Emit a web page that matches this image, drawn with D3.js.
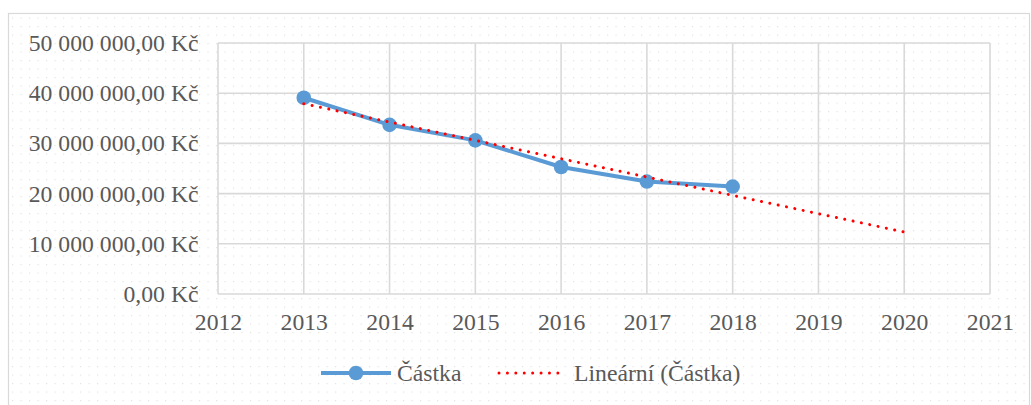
<!DOCTYPE html>
<html><head><meta charset="utf-8">
<script src="https://cdn.jsdelivr.net/npm/d3@7"></script>
<style>html,body{margin:0;padding:0;background:#fff;overflow:hidden}
svg text{font-family:"Liberation Serif","Times New Roman","DejaVu Serif",serif !important;}</style>
</head><body>
<script>
const years = [2013, 2014, 2015, 2016, 2017, 2018];
const amounts = [39100000, 33700000, 30600000, 25300000, 22400000, 21400000];
const trendYears = [2013, 2020];
const trendValues = [37900000, 12350000];
const xTicks = [2012, 2013, 2014, 2015, 2016, 2017, 2018, 2019, 2020, 2021];
const yTicks = [0, 10000000, 20000000, 30000000, 40000000, 50000000];
const seriesName = "Částka";
const trendName = "Lineární (Částka)";

const W = 1031, H = 405;
const FS = "23.7px";
const svg = d3.select("body").append("svg").attr("width", W).attr("height", H);
const defs = svg.append("defs");
const pat = defs.append("pattern").attr("id","dots").attr("patternUnits","userSpaceOnUse")
  .attr("width",8.5).attr("height",8.5).attr("x",3.5).attr("y",0.5);
pat.append("rect").attr("x",0).attr("y",0).attr("width",1.2).attr("height",1.2).attr("fill","#e3e3e3");

svg.append("rect").attr("x",8.5).attr("y",13.5).attr("width",1021).attr("height",400)
  .attr("fill","url(#dots)").attr("stroke","#d9d9d9").attr("stroke-width",1.2);

const L = 218, R = 990, T = 43, B = 294;
const x = d3.scaleLinear().domain([2012, 2021]).range([L, R]);
const y = d3.scaleLinear().domain([0, 50000000]).range([B, T]);

const fmt = v => {
  const s = d3.format(",.2f")(v).replace(/,/g, " ").replace(".", ",");
  return s + " Kč";
};

const grid = svg.append("g");
grid.selectAll("line.h").data(yTicks).join("line")
  .attr("x1",L).attr("x2",R).attr("y1",d=>y(d)).attr("y2",d=>y(d))
  .attr("stroke","#d9d9d9").attr("stroke-width",1.6);
grid.selectAll("line.v").data(xTicks).join("line")
  .attr("y1",T).attr("y2",B).attr("x1",d=>x(d)).attr("x2",d=>x(d))
  .attr("stroke","#d9d9d9").attr("stroke-width",1.6);

const yAxis = d3.axisLeft(y).tickValues(yTicks).tickFormat(fmt).tickSize(0).tickPadding(19.5);
const ya = svg.append("g").attr("transform",`translate(${L},0)`).call(yAxis);
ya.select(".domain").remove();
ya.selectAll("text").style("font-size",FS).attr("fill","#595959");

const xAxis = d3.axisBottom(x).tickValues(xTicks).tickFormat(d3.format("d")).tickSize(0).tickPadding(19.5);
const xa = svg.append("g").attr("transform",`translate(0,${B})`).call(xAxis);
xa.select(".domain").remove();
xa.selectAll("text").style("font-size",FS).attr("fill","#595959");

const data = years.map((yr,i)=>({yr, v: amounts[i]}));
const line = d3.line().x(d=>x(d.yr)).y(d=>y(d.v));
svg.append("path").datum(data).attr("d", line).attr("fill","none")
  .attr("stroke","#5b9bd5").attr("stroke-width",4).attr("stroke-linejoin","round");
svg.selectAll("circle.m").data(data).join("circle")
  .attr("cx",d=>x(d.yr)).attr("cy",d=>y(d.v)).attr("r",7.3).attr("fill","#5b9bd5");

const tdata = trendYears.map((yr,i)=>({yr, v: trendValues[i]}));
svg.append("path").datum(tdata).attr("d", line).attr("fill","none")
  .attr("stroke","#ff0000").attr("stroke-width",3).attr("stroke-linecap","round")
  .attr("stroke-dasharray","0.01 8.5");

// legend
const ly = 373;
const lg = svg.append("g");
lg.append("line").attr("x1",321).attr("x2",391).attr("y1",ly).attr("y2",ly)
  .attr("stroke","#5b9bd5").attr("stroke-width",4);
lg.append("circle").attr("cx",356).attr("cy",ly).attr("r",7.3).attr("fill","#5b9bd5");
lg.append("text").attr("x",397).attr("y",381).text(seriesName)
  .style("font-size",FS).attr("fill","#595959");
lg.append("line").attr("x1",499).attr("x2",566).attr("y1",ly).attr("y2",ly)
  .attr("stroke","#ff0000").attr("stroke-width",3).attr("stroke-linecap","round").attr("stroke-dasharray","0.01 8.4");
lg.append("text").attr("x",574).attr("y",381).text(trendName)
  .style("font-size",FS).attr("fill","#595959");
</script>
</body></html>
